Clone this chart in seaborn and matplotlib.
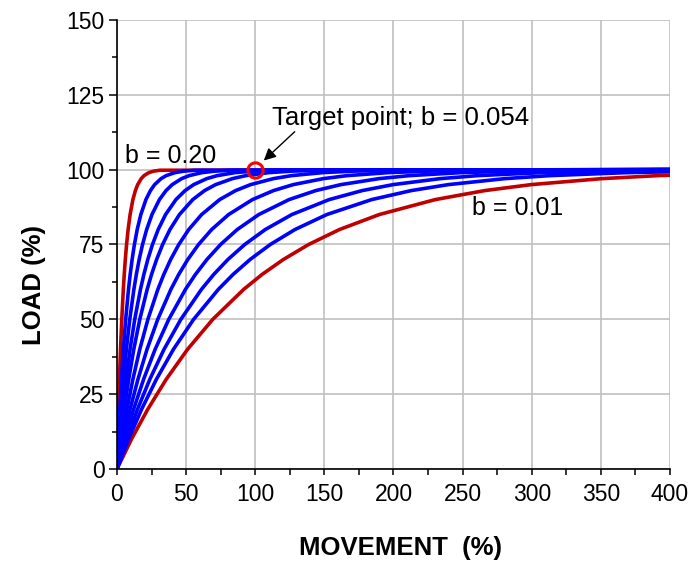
import pandas as pd
import seaborn as sns
import matplotlib.pyplot as plt
from matplotlib.ticker import MultipleLocator

# --- load levels (%) shared by all curves ---
load_levels = [0, 10, 20, 30, 40, 50, 60, 65, 70, 75, 80, 85, 90, 93, 95, 97, 98, 99, 99.5, 99.8]

# --- movement (%) at which each curve reaches the load levels ---
mov_b020 = [0, 0.53, 1.12, 1.78, 2.55, 3.47, 4.58, 5.25, 6.02, 6.93, 8.05, 9.49, 11.51, 13.30, 14.98, 17.53, 19.56, 23.03, 26.49, 31.07, 400]
mov_b011 = [0, 0.96, 2.03, 3.24, 4.64, 6.30, 8.33, 9.54, 10.95, 12.60, 14.63, 17.25, 20.93, 24.18, 27.23, 31.88, 35.56, 41.87, 48.17, 56.50, 400]
mov_b0075 = [0, 1.41, 2.98, 4.76, 6.81, 9.24, 12.22, 14.00, 16.05, 18.48, 21.46, 25.30, 30.70, 35.46, 39.94, 46.76, 52.16, 61.40, 70.64, 82.86, 400]
mov_b0054 = [0, 1.95, 4.13, 6.61, 9.46, 12.84, 16.97, 19.44, 22.30, 25.67, 29.80, 35.13, 42.64, 49.25, 55.48, 64.94, 72.44, 85.28, 98.12, 115.09, 400]
mov_b0042 = [0, 2.51, 5.31, 8.49, 12.16, 16.50, 21.82, 25.00, 28.67, 33.01, 38.32, 45.17, 54.82, 63.32, 71.33, 83.49, 93.14, 109.65, 126.15, 147.97, 400]
mov_b0031 = [0, 3.40, 7.20, 11.51, 16.48, 22.36, 29.56, 33.87, 38.84, 44.72, 51.92, 61.20, 74.28, 85.78, 96.64, 113.12, 126.19, 148.56, 170.91, 200.47, 400]
mov_b00235 = [0, 4.49, 9.49, 15.18, 21.74, 29.49, 38.99, 44.67, 51.23, 58.99, 68.49, 80.73, 97.98, 113.16, 127.48, 149.22, 166.47, 195.97, 225.46, 264.45, 400]
mov_b00185 = [0, 5.70, 12.06, 19.28, 27.61, 37.47, 49.53, 56.75, 65.08, 74.94, 87.00, 102.55, 124.47, 143.75, 161.93, 189.55, 211.46, 248.93, 286.40, 335.92, 400]
mov_b0015 = [0, 7.03, 14.87, 23.78, 34.05, 46.21, 61.09, 69.99, 80.27, 92.42, 107.29, 126.47, 153.51, 177.29, 199.71, 233.77, 260.80, 307.01, 353.22, 414.31]
mov_b00125 = [0, 8.43, 17.85, 28.54, 40.86, 55.45, 73.30, 83.98, 96.32, 110.90, 128.75, 151.77, 184.21, 212.74, 239.66, 280.53, 312.96, 368.42, 423.86]
mov_b001 = [0, 10.54, 22.31, 35.67, 51.08, 69.31, 91.63, 104.98, 120.40, 138.63, 160.94, 189.71, 230.26, 265.93, 299.57, 350.66, 391.20, 460.52]

# drawing order: b = 0.20 first so the blue bundle sits on top of it at 100 %
curves = {
    "b = 0.20": mov_b020,
    "b = 0.01": mov_b001,
    "b = 0.0125": mov_b00125,
    "b = 0.015": mov_b0015,
    "b = 0.0185": mov_b00185,
    "b = 0.0235": mov_b00235,
    "b = 0.031": mov_b0031,
    "b = 0.042": mov_b0042,
    "b = 0.054": mov_b0054,
    "b = 0.075": mov_b0075,
    "b = 0.11": mov_b011,
}

target_x = [100]
target_y = [100]

# --- long table for seaborn ---
rows = []
for name, mov in curves.items():
    n = len(mov)
    if n > len(load_levels):
        loads = load_levels + [100]  # flat tail up to the end of the axis
    else:
        loads = load_levels[:n]
    for m, l in zip(mov, loads):
        rows.append({"curve": name, "movement": m, "load": l})
df = pd.DataFrame(rows)

palette = {name: "#0000FF" for name in curves}
palette["b = 0.01"] = "#C00000"
palette["b = 0.20"] = "#C00000"

sns.set_theme(style="white")
plt.rcParams["font.family"] = ["Liberation Sans", "DejaVu Sans"]
plt.rcParams.update({"text.color": "black", "axes.labelcolor": "black",
                     "xtick.color": "black", "ytick.color": "black"})

fig = plt.figure(figsize=(6.91, 5.63), dpi=100)
ax = fig.add_axes([0.1693, 0.1670, 0.8003, 0.7975])

sns.lineplot(data=df, x="movement", y="load", hue="curve", hue_order=list(curves),
             palette=palette, estimator=None, sort=False, legend=False,
             linewidth=2.6, ax=ax)

# target point
ax.plot(target_x, target_y, marker="o", ms=11, mfc="none", mec="#FF0000",
        mew=2.2, ls="none", zorder=5, clip_on=False)

ax.set_xlim(0, 400)
ax.set_ylim(0, 150)
ax.xaxis.set_major_locator(MultipleLocator(50))
ax.xaxis.set_minor_locator(MultipleLocator(25))
ax.yaxis.set_major_locator(MultipleLocator(25))
ax.yaxis.set_minor_locator(MultipleLocator(12.5))

ax.grid(True, which="major", color="#c0c0c0", lw=1.2)
ax.set_axisbelow(True)
for s in ["top", "right"]:
    ax.spines[s].set_visible(False)
for s in ["left", "bottom"]:
    ax.spines[s].set_color("black")
    ax.spines[s].set_linewidth(1.2)

ax.tick_params(axis="y", which="major", direction="out", length=6, width=1.1,
               labelsize=16.5, pad=3, left=True)
ax.tick_params(axis="y", which="minor", direction="out", length=3.5, width=1.1,
               left=True)
ax.tick_params(axis="x", which="major", direction="out", length=4, width=1.1,
               labelsize=16.5, pad=6, bottom=True)
ax.tick_params(axis="x", which="minor", direction="out", length=4, width=1.1,
               bottom=True)

ax.set_xlabel("MOVEMENT  (%)", fontsize=18.5, fontweight="bold")
ax.set_ylabel("LOAD (%)", fontsize=18.5, fontweight="bold")
ax.xaxis.set_label_coords(0.512, -0.150)
ax.yaxis.set_label_coords(-0.128, 0.41)

ax.text(5.8, 104.6, "b = 0.20", fontsize=18, va="center", ha="left")
ax.text(256.8, 87.2, "b = 0.01", fontsize=18, va="center", ha="left")
ax.text(112.1, 117.3, "Target point; b = 0.054", fontsize=18.5, va="center", ha="left")
ax.annotate("", xy=(104.7, 102.4), xytext=(130, 113.3),
            arrowprops=dict(arrowstyle="-|>", color="black", lw=1, mutation_scale=18))

fig.savefig("out.png", dpi=100)
